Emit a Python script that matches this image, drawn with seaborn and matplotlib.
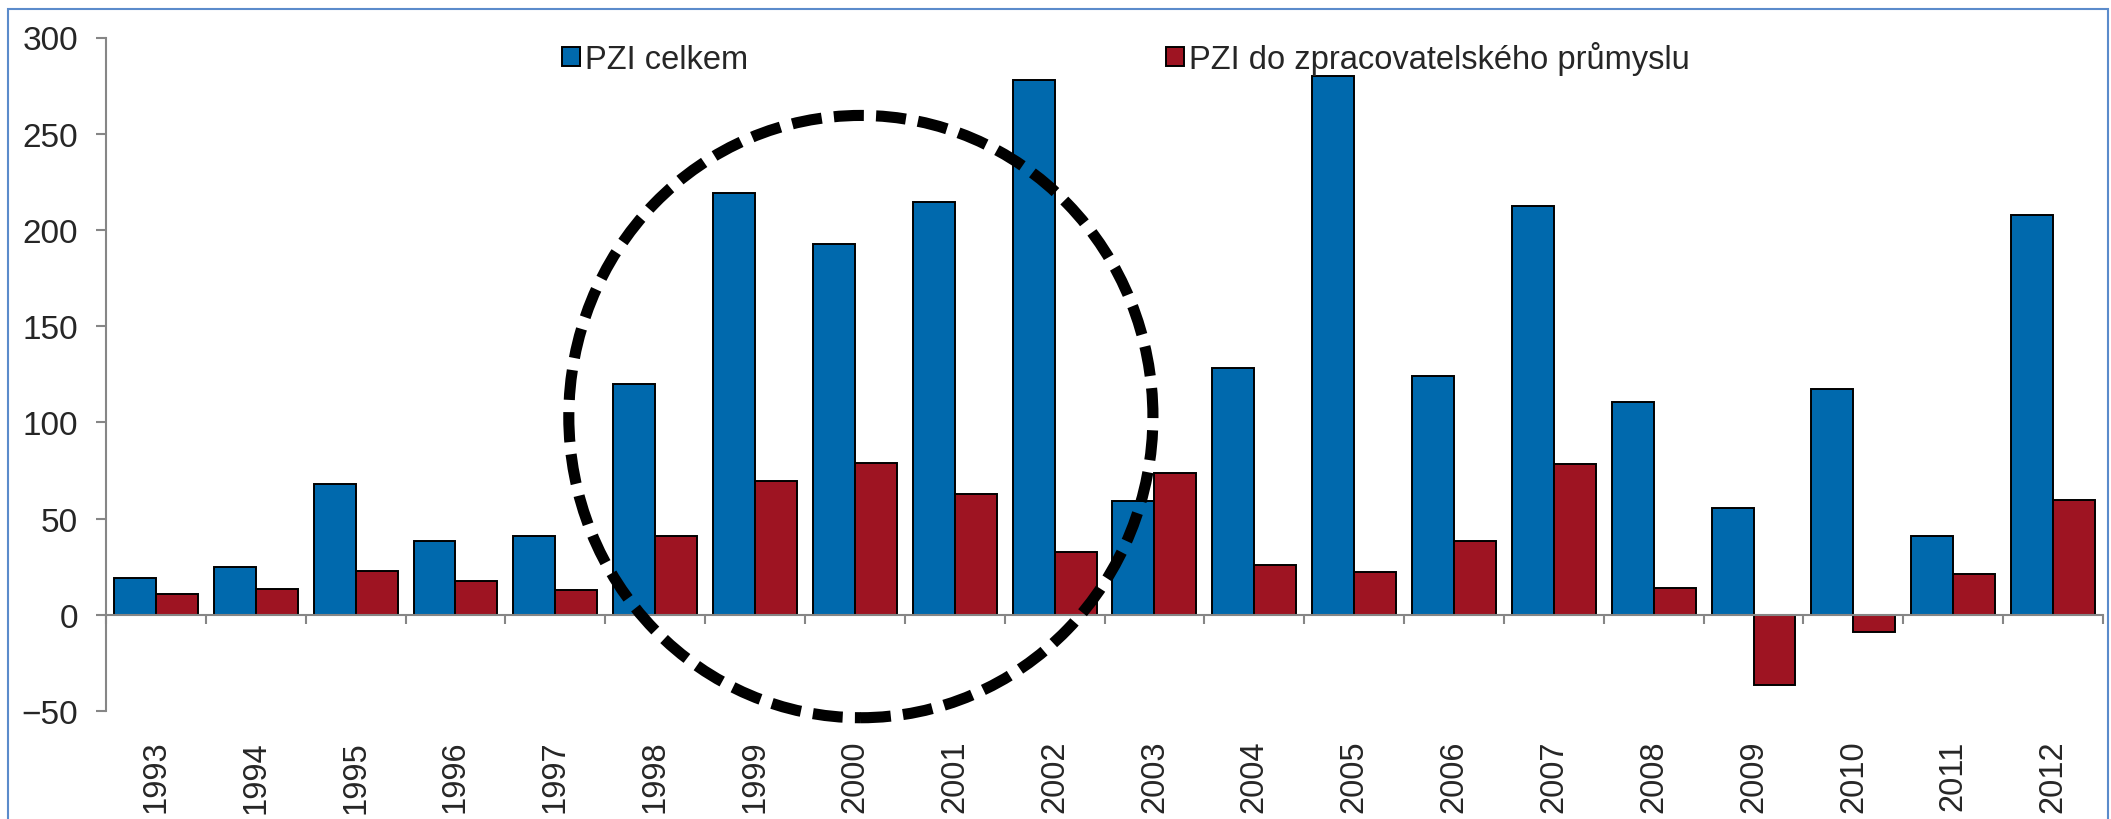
import numpy as np
import pandas as pd
import matplotlib.pyplot as plt
import seaborn as sns
from matplotlib.patches import Ellipse, Rectangle

# data
years = [str(y) for y in range(1993, 2013)]
pzi_celkem = [19.0, 25.0, 68.0, 38.6, 41.2, 120.0, 219.0, 192.5, 214.5, 278.0,
              59.2, 128.5, 280.0, 124.0, 212.5, 110.5, 55.7, 117.5, 41.0, 208.0]
pzi_zprac = [10.7, 13.4, 22.6, 17.4, 12.8, 41.2, 69.3, 79.0, 62.7, 32.6,
             73.7, 26.0, 22.1, 38.1, 78.3, 13.8, -36.6, -9.0, 21.4, 59.8]
series_names = ["PZI celkem", "PZI do zpracovatelského průmyslu"]
colors = ["#0069AD", "#9E1422"]
y_ticks = [-50, 0, 50, 100, 150, 200, 250, 300]

df = pd.DataFrame({
    "rok": years * 2,
    "hodnota": pzi_celkem + pzi_zprac,
    "rada": [series_names[0]] * len(years) + [series_names[1]] * len(years),
})

sns.set_style("white")
plt.rcParams["font.family"] = ["Liberation Sans", "DejaVu Sans"]

W, H = 2111, 820
fig = plt.figure(figsize=(W / 100, H / 100), dpi=100)
ax = fig.add_axes([106 / W, 1 - 712 / H, 1997 / W, 673.5 / H])

sns.barplot(data=df, x="rok", y="hodnota", hue="rada", order=years,
            hue_order=series_names, palette=dict(zip(series_names, colors)),
            width=0.84, gap=0, edgecolor="black", linewidth=1.4,
            saturation=1, ax=ax)

ax.set_xlim(-0.5, len(years) - 0.5)
ax.set_ylim(-50, 300)
ax.set_xlabel("")
ax.set_ylabel("")

axis_gray = "#868686"
for s in ["top", "right"]:
    ax.spines[s].set_visible(False)
ax.spines["left"].set_color(axis_gray)
ax.spines["left"].set_linewidth(1.5)
ax.spines["bottom"].set_color(axis_gray)
ax.spines["bottom"].set_linewidth(1.5)
ax.spines["bottom"].set_position(("data", 0))

ax.set_yticks(y_ticks)
ax.tick_params(axis="y", direction="out", length=7, width=1.5, color=axis_gray,
               pad=13, labelsize=24, left=True)
ax.set_xticks(range(len(years)))
ax.set_xticklabels(years, rotation=90)
ax.tick_params(axis="x", which="major", length=0, pad=90, labelsize=23.5)
ax.set_xticks(np.arange(-0.5, len(years), 1.0), minor=True)
ax.tick_params(axis="x", which="minor", direction="out", length=6.5, width=1.5,
               color=axis_gray, bottom=True)

# dashed ellipse around 1998-2002
ell_center = (7.06, 103.0)
ell_width, ell_height = 5.85, 313.0
ax.add_patch(Ellipse(ell_center, ell_width, ell_height, fill=False,
                     edgecolor="black", linewidth=8,
                     linestyle=(0, (2.7, 1.1)), clip_on=False, zorder=10))

# legend
handles, labels = ax.get_legend_handles_labels()
ax.get_legend().remove()
fig.legend(handles, labels, loc="center left",
           bbox_to_anchor=(562 / W, 1 - 59 / H), ncol=2, frameon=False,
           fontsize=23.5, handlelength=0.55, handleheight=0.55,
           handletextpad=0.15, columnspacing=12.8, borderpad=0,
           borderaxespad=0)

# thin blue frame around the chart area
fig.patches.append(Rectangle((8 / W, -0.1), 2100 / W, 1.1 - 10 / H,
                             transform=fig.transFigure, fill=False,
                             edgecolor="#5B8BCB", linewidth=1.5))

fig.savefig("out.png", dpi=100)
